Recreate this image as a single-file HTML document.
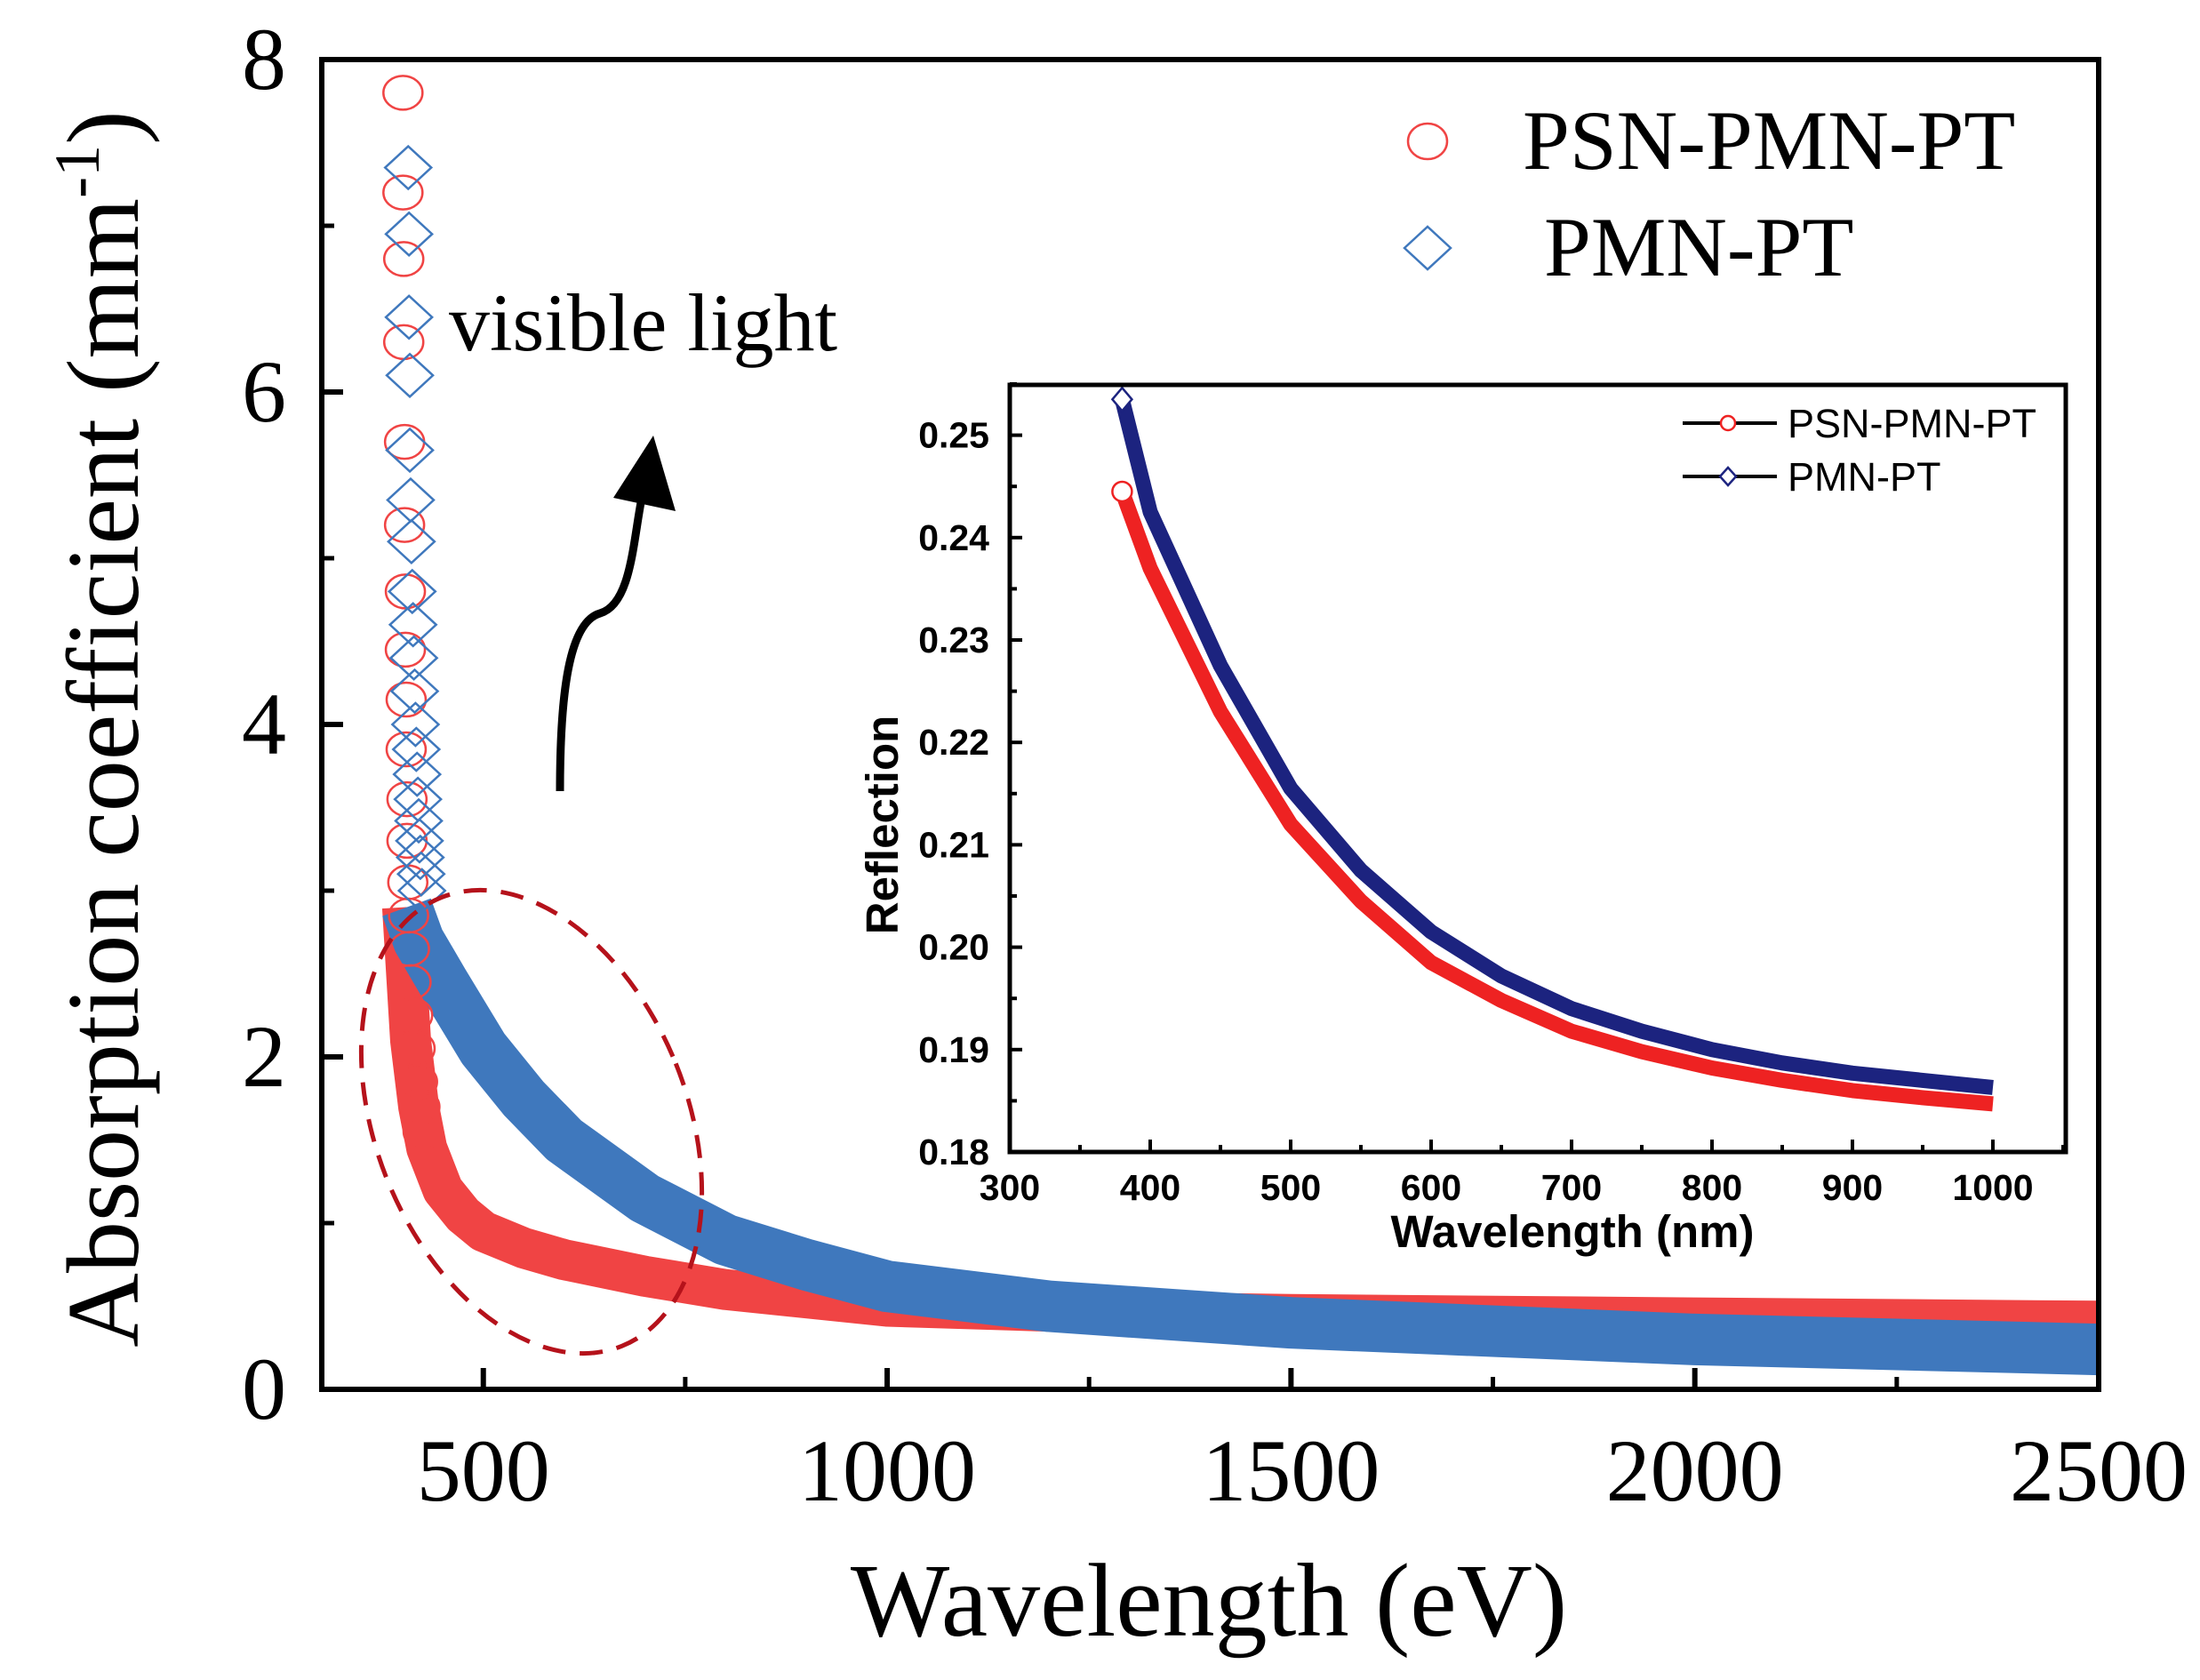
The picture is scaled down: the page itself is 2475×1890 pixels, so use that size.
<!DOCTYPE html>
<html><head><meta charset="utf-8"><style>
html,body{margin:0;padding:0;background:#fff;}
svg{display:block;}
.tm{font-family:"Liberation Serif",serif;}
.ar{font-family:"Liberation Sans",sans-serif;font-weight:bold;}
</style></head><body>
<svg id="c" width="2475" height="1890" viewBox="0 0 2475 1890" xmlns="http://www.w3.org/2000/svg">
<rect width="2475" height="1890" fill="#fff"/>
<g id="main"></g>
<g id="inset"></g>
</svg>
<script>
// main chart data
const mainXTicks=[500,1000,1500,2000,2500];
const mainYTicks=[0,2,4,6,8];
const redWl=[400,405,410,420,430,450,475,500,550,600,700,800,1000,1200,1500,2000,2500];
const redVal=[2.9,2.5,2.1,1.7,1.45,1.2,1.05,0.95,0.85,0.78,0.68,0.6,0.5,0.47,0.45,0.43,0.41];
const blueWl=[405,420,450,500,550,600,700,800,900,1000,1200,1500,2000,2500];
const blueVal=[2.9,2.7,2.45,2.05,1.75,1.5,1.15,0.9,0.75,0.62,0.5,0.4,0.3,0.24];
const redMkWl=[395,395,396,396,397,397,398,398,399,399,400,400,401,402,403,405,407,410,413,416,420];
const redMkVal=[7.8,7.2,6.8,6.3,5.7,5.2,4.8,4.45,4.15,3.85,3.55,3.3,3.05,2.85,2.65,2.45,2.25,2.05,1.85,1.7,1.55];
const blueMkWl=[396,397,397,398,398,399,400,401,402,403,404,405,406,407,408,409,410,411,412,413];
const blueMkVal=[7.35,6.95,6.45,6.1,5.65,5.35,5.1,4.8,4.6,4.4,4.2,4.0,3.85,3.7,3.55,3.42,3.3,3.2,3.1,3.0];
// inset data
const inXTicks=[300,400,500,600,700,800,900,1000];
const inYTicks=[0.18,0.19,0.20,0.21,0.22,0.23,0.24,0.25];
const inWl=[380,400,450,500,550,600,650,700,750,800,850,900,950,1000];
const inRed=[0.2445,0.237,0.223,0.212,0.2045,0.1985,0.1948,0.1918,0.1898,0.1882,0.187,0.186,0.1853,0.1847];
const inBlue=[0.2535,0.2425,0.2275,0.2155,0.2075,0.2015,0.1972,0.194,0.1918,0.19,0.1887,0.1877,0.187,0.1863];

const NS="http://www.w3.org/2000/svg";
function mk(parent,tag,attrs,txt){const e=document.createElementNS(NS,tag);for(const k in attrs)e.setAttribute(k,attrs[k]);if(txt!==undefined)e.textContent=txt;parent.appendChild(e);return e;}

const M={l:362,r:2361,t:67,b:1563,x0:300,x1:2500,y0:0,y1:8};
const mx=v=>M.l+(v-M.x0)/(M.x1-M.x0)*(M.r-M.l);
const my=v=>M.b-(v-M.y0)/(M.y1-M.y0)*(M.b-M.t);
const g=document.getElementById('main');

function band(wl,val,col,w,name){
  const d=wl.map((w0,i)=>(i?'L':'M')+mx(w0).toFixed(1)+','+my(val[i]).toFixed(1)).join(' ');
  const p=mk(g,'path',{d:d,stroke:col,'stroke-width':w,fill:'none','stroke-linejoin':'round'});
  
  
}
band(redWl,redVal,'#f04444',46,'psn-pmn-pt-band');
band(blueWl,blueVal,'#3f78bd',58,'pmn-pt-band');
redMkWl.forEach((w0,i)=>{
  const c=mk(g,'ellipse',{cx:mx(w0)+5,cy:my(redMkVal[i]),rx:22,ry:19,fill:'none',stroke:'#f04444','stroke-width':2.5});
  
  
});
blueMkWl.forEach((w0,i)=>{
  const x=mx(w0)+10,y=my(blueMkVal[i]);
  const p=mk(g,'path',{d:`M${x-26},${y} L${x},${y-24} L${x+26},${y} L${x},${y+24} Z`,fill:'none',stroke:'#3f78bd','stroke-width':2.5});
  
  
});
const fr=mk(g,'rect',{x:M.l,y:M.t,width:M.r-M.l,height:M.b-M.t,fill:'none',stroke:'#000','stroke-width':6});


mainXTicks.forEach(v=>{
  mk(g,'line',{x1:mx(v),x2:mx(v),y1:M.b,y2:M.b-24,stroke:'#000','stroke-width':6});
  const t=mk(g,'text',{x:mx(v),y:1688,'text-anchor':'middle','font-size':100,class:'tm'},String(v));
  
  
});
[750,1250,1750,2250].forEach(v=>mk(g,'line',{x1:mx(v),x2:mx(v),y1:M.b,y2:M.b-14,stroke:'#000','stroke-width':5}));
mainYTicks.forEach(v=>{
  mk(g,'line',{x1:M.l,x2:M.l+24,y1:my(v),y2:my(v),stroke:'#000','stroke-width':6});
  const t=mk(g,'text',{x:322,y:my(v)+33,'text-anchor':'end','font-size':100,class:'tm'},String(v));
  
  
});
[1,3,5,7].forEach(v=>mk(g,'line',{x1:M.l,x2:M.l+14,y1:my(v),y2:my(v),stroke:'#000','stroke-width':5}));
</script>
<script>
(function(){
const g=document.getElementById('main');
g.insertAdjacentHTML('beforeend',`
<text class="tm" x="1360" y="1840" text-anchor="middle" font-size="118">Wavelength (eV)</text>
<text class="tm" transform="translate(155,820) rotate(-90)" text-anchor="middle" font-size="116">Absorption coefficient (mm<tspan dy="-44" font-size="72">-1</tspan><tspan dy="44">)</tspan></text>
<text class="tm" x="505" y="394" font-size="92">visible light</text>
<ellipse cx="598" cy="1262" rx="175" ry="272" transform="rotate(-22 598 1262)" fill="none" stroke="#b5121b" stroke-width="5" stroke-dasharray="26,16"/>
<path d="M630,890 C630,780 640,700 675,690 C710,680 712,610 722,560" fill="none" stroke="#000" stroke-width="9"/>
<path d="M735,490 L760,575 L690,560 Z" fill="#000"/>
<ellipse cx="1606" cy="159" rx="22" ry="20" fill="none" stroke="#f04444" stroke-width="2.5"/>
<text class="tm" x="1713" y="190" font-size="95">PSN-PMN-PT</text>
<path d="M1580,279 L1606,255 L1632,279 L1606,303 Z" fill="none" stroke="#3f78bd" stroke-width="2.5"/>
<text class="tm" x="1737" y="310" font-size="95">PMN-PT</text>
`);
})();
</script>
<script>
const I={l:1136,r:2324,t:433,b:1296,x0:300,x1:1050,y0:0.18,y1:0.2575};
const ix=v=>I.l+(v-I.x0)/100*158;
const iy=v=>I.b-(v-I.y0)/0.01*115.2;
const gi=document.getElementById('inset');
function iseries(vals,col,name,diamond){
  const d=inWl.map((w,i)=>(i?'L':'M')+ix(w).toFixed(1)+','+iy(vals[i]).toFixed(1)).join(' ');
  const p=mk(gi,'path',{d:d,stroke:col,'stroke-width':17,fill:'none','stroke-linejoin':'round'});
  
  
  const x=ix(inWl[0]),y=iy(vals[0]);
  const m=diamond?mk(gi,'path',{d:`M${x-11},${y} L${x},${y-13} L${x+11},${y} L${x},${y+13} Z`,fill:'#fff',stroke:col,'stroke-width':2.5}):mk(gi,'circle',{cx:x,cy:y,r:11,fill:'#fff',stroke:col,'stroke-width':2.5});
  
  
}
iseries(inRed,'#ee2222','inset-psn-series',false);
iseries(inBlue,'#1c237f','inset-pmn-series',true);
const ifr=mk(gi,'rect',{x:I.l,y:I.t,width:I.r-I.l,height:I.b-I.t,fill:'none',stroke:'#000','stroke-width':5});


inXTicks.forEach(v=>{
  mk(gi,'line',{x1:ix(v),x2:ix(v),y1:I.b,y2:I.b-14,stroke:'#000','stroke-width':4});
  mk(gi,'line',{x1:ix(v+50),x2:ix(v+50),y1:I.b,y2:I.b-8,stroke:'#000','stroke-width':4});
  const t=mk(gi,'text',{x:ix(v),y:1350,'text-anchor':'middle','font-size':41,class:'ar'},String(v));
  
  
});
inYTicks.forEach(v=>{
  mk(gi,'line',{x1:I.l,x2:I.l+14,y1:iy(v),y2:iy(v),stroke:'#000','stroke-width':4});
  mk(gi,'line',{x1:I.l,x2:I.l+8,y1:iy(v+0.005),y2:iy(v+0.005),stroke:'#000','stroke-width':4});
  const t=mk(gi,'text',{x:1113,y:iy(v)+14,'text-anchor':'end','font-size':41,class:'ar'},v.toFixed(2));
  
  
});
gi.insertAdjacentHTML('beforeend',`
<text class="ar" x="1769" y="1403" text-anchor="middle" font-size="51">Wavelength (nm)</text>
<text class="ar" transform="translate(1010,928) rotate(-90)" text-anchor="middle" font-size="51">Reflection</text>
<line x1="1893" x2="1999" y1="476" y2="476" stroke="#000" stroke-width="4"/>
<circle cx="1944" cy="476" r="8" fill="#fff" stroke="#ee2222" stroke-width="2.5"/>
<text class="ar" x="2011" y="492" font-size="45" style="font-weight:normal">PSN-PMN-PT</text>
<line x1="1893" x2="1999" y1="536" y2="536" stroke="#000" stroke-width="4"/>
<path d="M1935,536 L1944,526 L1953,536 L1944,546 Z" fill="#fff" stroke="#1c237f" stroke-width="2.5"/>
<text class="ar" x="2011" y="552" font-size="45" style="font-weight:normal">PMN-PT</text>
`);
</script>
</body></html>
